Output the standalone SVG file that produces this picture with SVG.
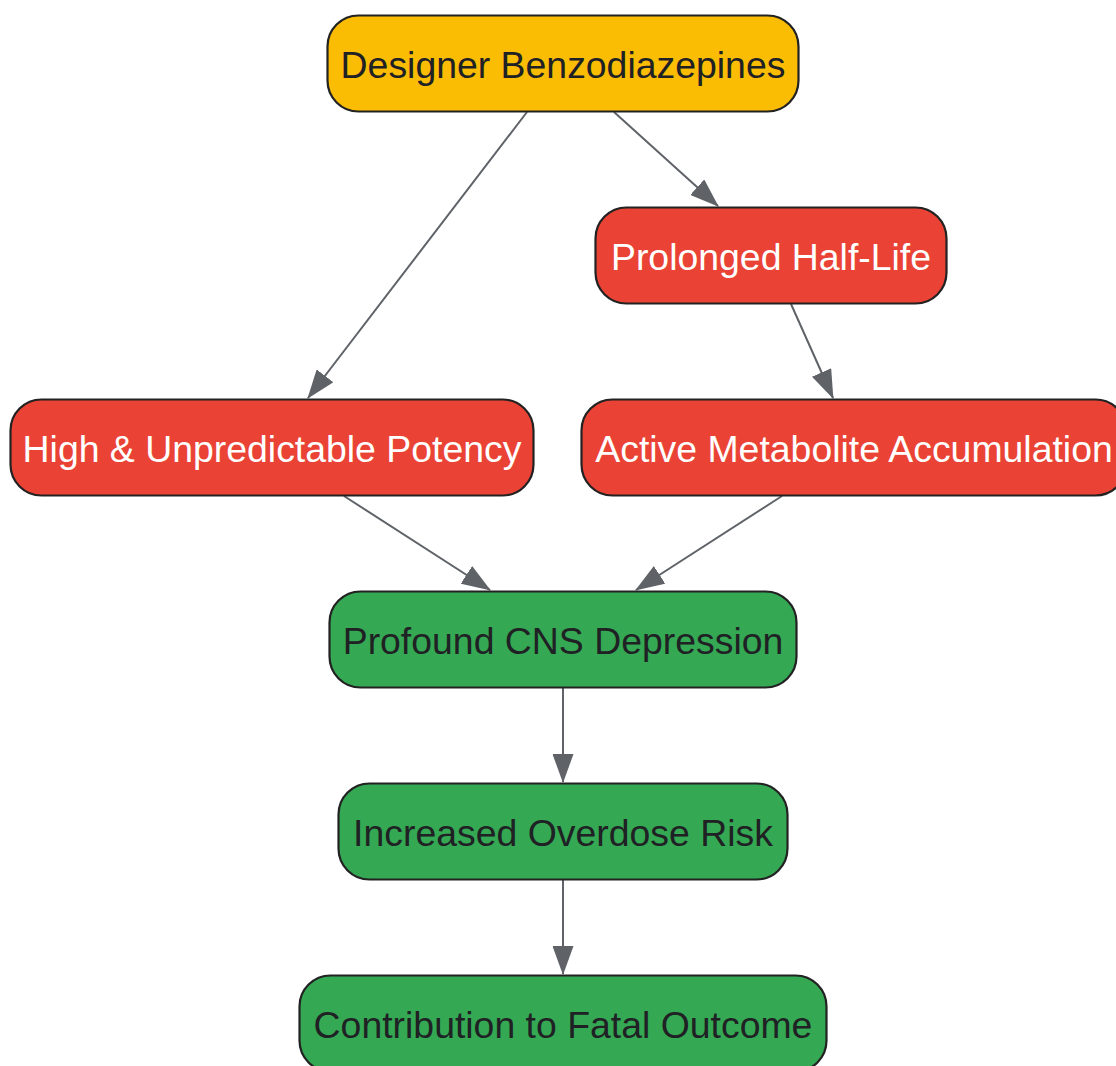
<svg xmlns="http://www.w3.org/2000/svg" width="1116" height="1066" viewBox="0 0 1116 1066">
<style>
.node rect{stroke:#222222;stroke-width:2.2}
.y rect{fill:#FBBC04}
.r rect{fill:#EA4335}
.g rect{fill:#34A853}
.node text{font-family:"Liberation Sans",Arial,sans-serif;font-size:37.4px;text-anchor:middle}
.y text,.g text{fill:#202124}
.r text{fill:#FFFFFF}
.edges line{stroke:#5F6368;stroke-width:2;fill:none}
</style>
<defs>
<marker id="arr" markerUnits="userSpaceOnUse" markerWidth="29" markerHeight="21" viewBox="0 0 29 21" refX="28" refY="10.5" orient="auto">
<path d="M0,0 L29,10.5 L0,21 Z" fill="#5F6368"/>
</marker>
</defs>
<rect width="1116" height="1066" fill="#FFFFFF"/>
<g class="edges">
<line x1="527" y1="112" x2="308" y2="398" marker-end="url(#arr)"/>
<line x1="614" y1="112" x2="718" y2="206" marker-end="url(#arr)"/>
<line x1="791" y1="304" x2="833" y2="398" marker-end="url(#arr)"/>
<line x1="344" y1="496" x2="490" y2="590" marker-end="url(#arr)"/>
<line x1="782" y1="496" x2="636" y2="590" marker-end="url(#arr)"/>
<line x1="563" y1="688" x2="563" y2="782" marker-end="url(#arr)"/>
<line x1="563" y1="880" x2="563" y2="974" marker-end="url(#arr)"/>
</g>
<g id="n1" class="node y"><rect x="327.5" y="15.5" width="471" height="96" rx="31"/><text x="563" y="77.5">Designer Benzodiazepines</text></g>
<g id="n2" class="node r"><rect x="595.5" y="207.5" width="351" height="96" rx="31"/><text x="771" y="269.5">Prolonged Half-Life</text></g>
<g id="n3" class="node r"><rect x="10.5" y="399.5" width="523" height="96" rx="31"/><text x="272" y="461.5">High &amp; Unpredictable Potency</text></g>
<g id="n4" class="node r"><rect x="581.5" y="399.5" width="545" height="96" rx="31"/><text x="854" y="461.5">Active Metabolite Accumulation</text></g>
<g id="n5" class="node g"><rect x="329.5" y="591.5" width="467" height="96" rx="31"/><text x="563" y="653.5">Profound CNS Depression</text></g>
<g id="n6" class="node g"><rect x="338.5" y="783.5" width="449" height="96" rx="31"/><text x="563" y="845.5">Increased Overdose Risk</text></g>
<g id="n7" class="node g"><rect x="299.5" y="975.5" width="527" height="96" rx="31"/><text x="563" y="1037.5">Contribution to Fatal Outcome</text></g>
</svg>
